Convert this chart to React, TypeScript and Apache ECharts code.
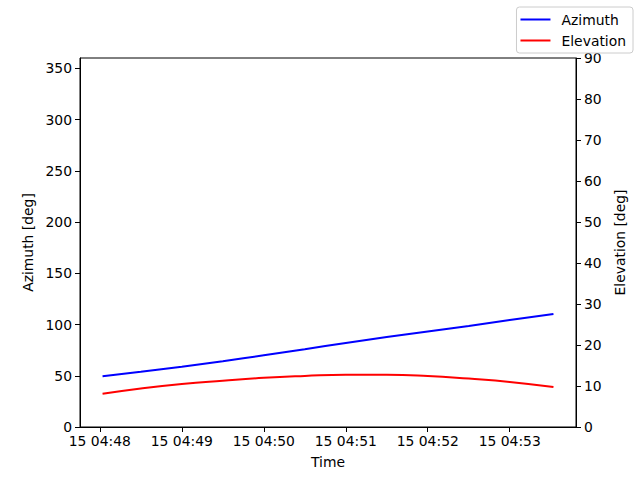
import React, { useEffect, useRef } from "react";
import * as echarts from "echarts";

// seconds after 15 04:48:00
const timeSec = [2, 30, 60, 90, 120, 150, 180, 210, 240, 270, 300, 332];
const azimuth = [49.5, 53.8, 58.8, 64.2, 70.0, 75.9, 82.0, 87.7, 93.2, 98.6, 104.3, 110.2];
const elevation = [8.1, 9.4, 10.5, 11.3, 12.0, 12.45, 12.75, 12.75, 12.45, 11.8, 11.0, 9.75];
const xTicks = [0, 60, 120, 180, 240, 300];
const xTickLabel = (v: number) => `15 04:${String(48 + Math.round(v / 60)).padStart(2, "0")}`;

const FONT = "DejaVu Sans";
const FS = 13.9;

export default function App() {
  const ref = useRef<HTMLDivElement>(null);
  useEffect(() => {
    if (!ref.current) return;
    const chart = echarts.init(ref.current, undefined, { renderer: "svg" });
    const pad = (timeSec[timeSec.length - 1] - timeSec[0]) * 0.05;
    chart.setOption({
      animation: false,
      textStyle: { fontFamily: FONT, fontSize: FS, color: "#000" },
      grid: { left: 80, right: 64, top: 58, bottom: 53, show: true, borderColor: "#000", borderWidth: 1 },
      legend: {
        right: 7,
        top: 7,
        orient: "vertical",
        icon: "rect",
        itemWidth: 30,
        itemHeight: 2,
        itemGap: 4,
        padding: [4, 7, 4, 4],
        borderColor: "#cccccc",
        borderWidth: 1,
        borderRadius: 3,
        backgroundColor: "rgba(255,255,255,0.8)",
        textStyle: { fontFamily: FONT, fontSize: FS, color: "#000", lineHeight: 17, padding: [0, 0, 0, 6] },
        data: ["Azimuth", "Elevation"],
      },
      xAxis: {
        type: "value",
        min: timeSec[0] - pad,
        max: timeSec[timeSec.length - 1] + pad,
        name: "Time",
        nameLocation: "middle",
        nameGap: 28,
        nameTextStyle: { fontFamily: FONT, fontSize: FS, color: "#000" },
        axisLine: { onZero: false, lineStyle: { color: "#000" } },
        axisTick: { show: true, length: 5, customValues: xTicks, lineStyle: { color: "#000" } },
        axisLabel: {
          customValues: xTicks,
          formatter: (v: number) => xTickLabel(v),
          fontFamily: FONT,
          fontSize: FS,
          color: "#000",
          margin: 7,
        },
        splitLine: { show: false },
      },
      yAxis: [
        {
          type: "value",
          min: 0,
          max: 360,
          interval: 50,
          position: "left",
          name: "Azimuth [deg]",
          nameLocation: "middle",
          nameGap: 43,
          nameRotate: 90,
          nameTextStyle: { fontFamily: FONT, fontSize: FS, color: "#000" },
          axisLine: { show: true, onZero: false, lineStyle: { color: "#000" } },
          axisTick: { show: true, length: 5, lineStyle: { color: "#000" } },
          axisLabel: { fontFamily: FONT, fontSize: FS, color: "#000", margin: 8, showMaxLabel: false },
          splitLine: { show: false },
        },
        {
          type: "value",
          min: 0,
          max: 90,
          interval: 10,
          position: "right",
          name: "Elevation [deg]",
          nameLocation: "middle",
          nameGap: 34,
          nameRotate: 90,
          nameTextStyle: { fontFamily: FONT, fontSize: FS, color: "#000" },
          axisLine: { show: true, onZero: false, lineStyle: { color: "#000" } },
          axisTick: { show: true, length: 5, lineStyle: { color: "#000" } },
          axisLabel: { fontFamily: FONT, fontSize: FS, color: "#000", margin: 8 },
          splitLine: { show: false },
        },
      ],
      series: [
        {
          name: "Azimuth",
          type: "line",
          yAxisIndex: 0,
          smooth: true,
          symbol: "none",
          lineStyle: { color: "#0000ff", width: 2 },
          itemStyle: { color: "#0000ff" },
          data: timeSec.map((t, i) => [t, azimuth[i]]),
        },
        {
          name: "Elevation",
          type: "line",
          yAxisIndex: 1,
          smooth: true,
          symbol: "none",
          lineStyle: { color: "#ff0000", width: 2 },
          itemStyle: { color: "#ff0000" },
          data: timeSec.map((t, i) => [t, elevation[i]]),
        },
      ],
    });
    return () => chart.dispose();
  }, []);
  return <div ref={ref} style={{ width: 640, height: 480, position: "absolute", left: 0, top: 0 }} />;
}
